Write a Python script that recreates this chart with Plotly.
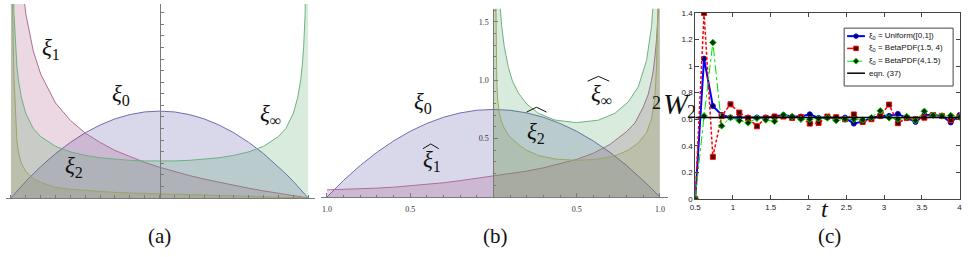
import plotly.graph_objects as go

W, H = 969, 257

# ---------------- Panel (a) data ----------------
xa = [-1.0, -0.99, -0.98, -0.97, -0.96, -0.95, -0.93, -0.9, -0.85, -0.8, -0.7, -0.6, -0.5, -0.4,
      -0.3, -0.2, -0.1, 0.0, 0.1, 0.2, 0.3, 0.4, 0.5, 0.6, 0.7, 0.8, 0.85, 0.9, 0.93, 0.95,
      0.96, 0.97, 0.98, 0.99, 1.0]
xi0_a = [0, .015, .03, .044, .059, .073, .101, .143, .208, .27, .383, .48, .563, .63, .683, .72, .743,
         .75, .743, .72, .683, .63, .563, .48, .383, .27, .208, .143, .101, .073, .059, .044, .03, .015, 0]
xi1_a = [6.0, 5.3, 3.7, 3.0, 2.6, 2.31, 1.93, 1.59, 1.27, 1.07, .82, .67, .56, .48, .41, .356, .307,
         .265, .228, .194, .163, .135, .108, .084, .061, .040, .029, .019, .013, .009, .007, .005,
         .003, .0015, 0]
xi2_a = [3.0, 1.7, 1.05, .72, .50, .40, .30, .23, .165, .135, .09, .075, .064, .055, .048, .043, .039,
         .035, .031, .027, .023, .019, .016, .013, .009, .006, .005, .003, .002, .0015, .001, .001,
         .0005, .0002, 0]
xiinf_a = [6.0, 2.26, 1.6, 1.31, 1.14, 1.02, .87, .73, .60, .53, .446, .398, .368, .347, .334, .325,
           .32, .318, .32, .325, .334, .347, .368, .398, .446, .53, .60, .73, .87, 1.02, 1.14, 1.31,
           1.6, 2.26, 6.0]

# ---------------- Panel (b) data ----------------
xb_full = [-1.0, -0.9, -0.8, -0.7, -0.6, -0.5, -0.4, -0.3, -0.2, -0.1, 0.0, 0.1, 0.2, 0.3, 0.4, 0.5,
           0.6, 0.7, 0.8, 0.85, 0.9, 0.93, 0.95, 0.96, 0.97, 0.98, 0.99, 1.0]
xi0_b = [0, .143, .27, .383, .48, .563, .63, .683, .72, .743, .75, .743, .72, .683, .63, .563, .48,
         .383, .27, .208, .143, .101, .073, .059, .044, .03, .015, 0]
xi1hat_b = [.061, .064, .069, .076, .084, .095, .108, .122, .14, .16, .179, .20, .222, .25, .285, .322,
            .375, .45, .56, .634, .77, .88, 1.0, 1.08, 1.2, 1.35, 1.6, 2.5]
xb_half = [0.0, 0.005, 0.01, 0.015, 0.02, 0.025, 0.035, 0.05, 0.065, 0.09, 0.115, 0.15, 0.2, 0.27,
           0.37, 0.5, 0.63, 0.73, 0.81, 0.87, 0.92, 0.95, 0.97, 0.98, 0.99, 0.995, 1.0]
xi2hat_b = [4.0, 3.0, 2.4, 1.65, 1.0, 0.84, 0.72, 0.64, 0.59, 0.53, 0.496, 0.45, 0.40, 0.355,
            0.325, 0.314, 0.325, 0.353, 0.40, 0.463, 0.55, 0.67, 0.85, 1.12, 1.7, 2.4, 4.0]
xiinfhat_b = [6.0, 4.5, 3.2, 2.61, 2.27, 2.03, 1.72, 1.46, 1.29, 1.11, 0.99, 0.891, 0.796, 0.717,
              0.659, 0.637, 0.658, 0.717, 0.815, 0.943, 1.17, 1.46, 1.87, 2.27, 3.2, 4.5, 6.0]

# ---------------- Panel (c) data ----------------
t_c = [0.5 + k * 3.5 / 30 for k in range(31)]
w_uniform = [0, 1.056, 0.70, 0.632, 0.613, 0.613, 0.613, 0.613, 0.613, 0.62, 0.632, 0.62, 0.62,
             0.637, 0.61, 0.615, 0.61, 0.612, 0.567, 0.584, 0.61, 0.625, 0.625, 0.64, 0.61, 0.58,
             0.632, 0.632, 0.625, 0.576, 0.632]
w_beta154 = [0, 1.40, 0.317, 0.625, 0.712, 0.65, 0.608, 0.547, 0.61, 0.62, 0.62, 0.61, 0.615,
             0.567, 0.572, 0.62, 0.615, 0.60, 0.636, 0.58, 0.60, 0.625, 0.71, 0.57, 0.61, 0.60,
             0.612, 0.632, 0.625, 0.595, 0.62]
w_beta415 = [0, 0.625, 1.177, 0.55, 0.613, 0.59, 0.573, 0.608, 0.595, 0.584, 0.632, 0.62, 0.60,
             0.60, 0.605, 0.61, 0.59, 0.60, 0.60, 0.595, 0.612, 0.663, 0.61, 0.60, 0.62, 0.59,
             0.66, 0.63, 0.625, 0.628, 0.615]
eqn37_t = [0.5, 4.0]
eqn37_w = [0.613, 0.613]

legend_names = ["ξ<sub>0</sub> = Uniform([0,1])", "ξ<sub>0</sub> = BetaPDF(1.5, 4)",
                "ξ<sub>0</sub> = BetaPDF(4,1.5)", "eqn. (37)"]

# ---------------- styling ----------------
BLUE = (63, 61, 153)
PINK = (153, 61, 113)
YELL = (153, 139, 61)
GREEN = (61, 153, 86)


def lc(c):
    return "rgb(%d,%d,%d)" % tuple(int(v + (255 - v) * 0.25) for v in c)


def fc(c):
    return "rgba(%d,%d,%d,0.2)" % c


fig = go.Figure()


def area(x, y, col, xa_, ya_):
    fig.add_trace(go.Scatter(x=x, y=y, mode="lines", line=dict(color=lc(col), width=1),
                             fill="tozeroy", fillcolor=fc(col), xaxis=xa_, yaxis=ya_,
                             showlegend=False, hoverinfo="skip"))


area(xa, xi0_a, BLUE, "x", "y")
area(xa, xi1_a, PINK, "x", "y")
area(xa, xi2_a, YELL, "x", "y")
area(xa, xiinf_a, GREEN, "x", "y")

area(xb_full, xi0_b, BLUE, "x2", "y2")
area(xb_full, xi1hat_b, PINK, "x2", "y2")
area(xb_half, xi2hat_b, YELL, "x2", "y2")
area(xb_half, xiinfhat_b, GREEN, "x2", "y2")

series_c = [
    (w_uniform, dict(color="#0000ff", width=2), "circle", "#00004a", "#0000ff"),
    (w_beta154, dict(color="#ff0000", width=1.5, dash="3px,2px"), "square", "#3a0000", "#ff0000"),
    (w_beta415, dict(color="#00e000", width=1, dash="dashdot"), "diamond", "#002a00", "#00c800"),
]
for i, (vals, ln, sym, face, edge) in enumerate(series_c):
    fig.add_trace(go.Scatter(x=t_c, y=vals, mode="lines+markers", name=legend_names[i], line=ln,
                             marker=dict(symbol=sym, size=5, color=face, line=dict(color=edge, width=1)),
                             xaxis="x3", yaxis="y3", showlegend=False))
fig.add_trace(go.Scatter(x=eqn37_t, y=eqn37_w, mode="lines", name=legend_names[3],
                         line=dict(color="#000000", width=1.5), xaxis="x3", yaxis="y3",
                         showlegend=False))


def px(xp):
    return xp / W


def py(yp):
    return 1 - yp / H


GRAY = "#7a7a7a"
serif_small = dict(family="Liberation Serif, DejaVu Serif, serif", size=8, color="#333")
sans_small = dict(family="Liberation Sans, Arial, sans-serif", size=8, color="#222")
fig.update_layout(
    width=W, height=H, margin=dict(l=0, r=0, t=0, b=0),
    plot_bgcolor="rgba(0,0,0,0)", paper_bgcolor="white", showlegend=False,
    xaxis=dict(domain=[0, px(312)], range=[-1.0333, 1.0467], anchor="y", showline=True,
               linecolor=GRAY, linewidth=1, ticks="inside", ticklen=3, tickcolor=GRAY,
               tick0=-1, dtick=0.1, showticklabels=False, showgrid=False, zeroline=False),
    yaxis=dict(domain=[py(201), py(0)], range=[0, 1.675], anchor="free", position=px(155),
               showline=True, linecolor=GRAY, linewidth=1, ticks="inside", ticklen=3,
               tickcolor=GRAY, tick0=0, dtick=0.1, showticklabels=False, showgrid=False,
               zeroline=False),
    xaxis2=dict(domain=[px(318), px(668)], range=[-1.0357, 1.0476], anchor="y2", showline=True,
                linecolor=GRAY, linewidth=1, ticks="inside", ticklen=4, tickcolor=GRAY,
                tickvals=[-1, -0.5, 0.5, 1], ticktext=["1.0", "0.5", "0.5", "1.0"],
                tickfont=serif_small, showgrid=False, zeroline=False, ticklabelstandoff=4,
                minor=dict(ticks="inside", ticklen=2, tickcolor=GRAY, dtick=0.1, tick0=0)),
    yaxis2=dict(domain=[py(200), py(5)], range=[0, 1.612], anchor="free", position=px(492),
                showline=True, linecolor=GRAY, linewidth=1, ticks="inside", ticklen=4,
                tickcolor=GRAY, tickvals=[0.5, 1.0, 1.5], ticktext=["0.5", "1.0", "1.5"],
                tickfont=serif_small, showgrid=False, zeroline=False, ticklabelstandoff=3,
                minor=dict(ticks="inside", ticklen=2, tickcolor=GRAY, dtick=0.1, tick0=0)),
    xaxis3=dict(domain=[px(695.7), px(962.5)], range=[0.5, 4], anchor="y3", showline=True,
                mirror="ticks", linecolor="#444", linewidth=1, ticks="inside", ticklen=4,
                tickcolor="#444", tickvals=[0.5, 1, 1.5, 2, 2.5, 3, 3.5, 4],
                ticktext=["0.5", "1", "1.5", "2", "2.5", "3", "3.5", "4"],
                tickfont=sans_small, showgrid=False, zeroline=False),
    yaxis3=dict(domain=[py(202), py(9.3)], range=[0, 1.4], anchor="x3", showline=True,
                mirror="ticks", linecolor="#444", linewidth=1, ticks="inside", ticklen=4,
                tickcolor="#444", tickvals=[0, 0.2, 0.4, 0.6, 0.8, 1, 1.2, 1.4],
                ticktext=["0", "0.2", "0.4", "0.6", "0.8", "1", "1.2", "1.4"],
                tickfont=sans_small, showgrid=False, zeroline=False),
)

SERIF = "Liberation Serif, DejaVu Serif, serif"


def label(text, x, y, size=20, family=SERIF, anchor="center", color="#111"):
    fig.add_annotation(text=text, x=px(x), y=py(y), xref="paper", yref="paper",
                       showarrow=False, xanchor=anchor, yanchor="middle",
                       font=dict(family=family, size=size, color=color))


GS = 23
label("<i>ξ</i><sub>1</sub>", 45, 47, GS)
label("<i>ξ</i><sub>0</sub>", 116, 94, GS)
label("<i>ξ</i><sub>∞</sub>", 267, 115, GS)
label("<i>ξ</i><sub>2</sub>", 69, 169, GS)
label("<i>ξ</i><sub>0</sub>", 421, 103, GS)
label("<i>ξ</i><sub>1</sub>", 430, 163, GS)
label("<i>ξ</i><sub>2</sub>", 535, 134, GS)
label("<i>ξ</i><sub>∞</sub>", 601, 94, GS)

# hats over the transformed labels
for (cx, top, half) in [(428.8, 145, 8), (535.5, 107, 10), (598, 75, 11)]:
    fig.add_shape(type="path", xref="paper", yref="paper",
                  path="M %f %f L %f %f L %f %f" % (px(cx - half), py(top + 5), px(cx), py(top),
                                                    px(cx + half), py(top + 5)),
                  line=dict(color="#111", width=1))

# captions
label("(a)", 155, 240, 21)
label("(b)", 494, 240, 21)
label("(c)", 831, 240, 21)

# axis labels for (c)
label("<i>t</i>", 827, 212, 24)
label("2", 657, 103, 18)
label("<i>W</i>", 677, 103, 30)
label("2", 692, 112, 18)

# ---------------- legend for (c), drawn as a box ----------------
fig.add_shape(type="rect", xref="paper", yref="paper", x0=px(846), x1=px(956), y0=py(85), y1=py(25),
              line=dict(color="#444", width=1), fillcolor="white")
leg_y = [33.3, 46.0, 59.3, 71.7]
leg_style = [("#0000ff", 2, "solid"), ("#ff0000", 1.5, "dash"), ("#00e000", 1, "dashdot"),
             ("#000000", 1.5, "solid")]
for i, yy in enumerate(leg_y):
    col, wd, ds = leg_style[i]
    fig.add_shape(type="line", xref="paper", yref="paper", x0=px(849), x1=px(867), y0=py(yy), y1=py(yy),
                  line=dict(color=col, width=wd, dash=ds))
    label(legend_names[i], 869, yy, 8, "Liberation Sans, Arial, sans-serif", "left")
# legend marker glyphs
r = 2.3
fig.add_shape(type="circle", xref="paper", yref="paper", x0=px(858 - r), x1=px(858 + r),
              y0=py(33.3 + r), y1=py(33.3 - r), fillcolor="#00004a", line=dict(color="#0000ff", width=1))
fig.add_shape(type="rect", xref="paper", yref="paper", x0=px(858 - r), x1=px(858 + r),
              y0=py(46 + r), y1=py(46 - r), fillcolor="#3a0000", line=dict(color="#ff0000", width=1))
fig.add_shape(type="path", xref="paper", yref="paper",
              path="M %f %f L %f %f L %f %f L %f %f Z" % (px(858), py(59.3 - 3), px(861), py(59.3),
                                                           px(858), py(59.3 + 3), px(855), py(59.3)),
              fillcolor="#002a00", line=dict(color="#00c800", width=1))

fig.write_html("out.html", config={"displayModeBar": False},
               post_script="document.body.style.margin='0';document.body.style.overflow='hidden';")
